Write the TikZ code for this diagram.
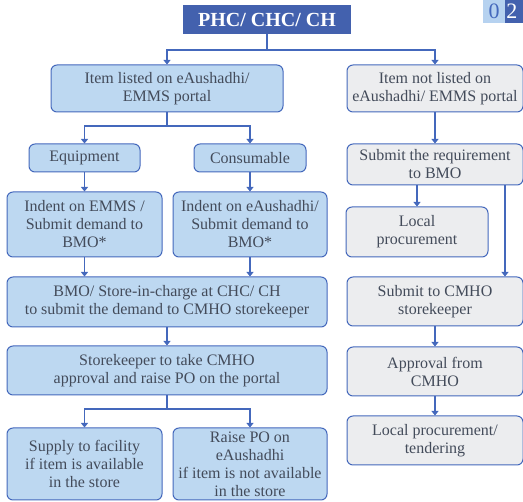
\documentclass[tikz,border=0pt]{standalone}
\usepackage{fontspec}
\setmainfont{Liberation Serif}
\usetikzlibrary{arrows.meta}

\definecolor{boxline}{HTML}{4468BC}
\definecolor{bluefill}{HTML}{BDD8F1}
\definecolor{greyfill}{HTML}{ECEDEF}
\definecolor{headfill}{HTML}{4361AE}
\definecolor{tagfill}{HTML}{B6D2F0}
\definecolor{boxtext}{HTML}{434B5A}

\tikzset{
  stepnode/.style={rectangle, rounded corners=6pt, draw=boxline, line width=1pt,
                   align=center, inner sep=0pt, text=boxtext,
                   font=\fontsize{16}{18}\selectfont},
  listed/.style={stepnode, fill=bluefill},
  unlisted/.style={stepnode, fill=greyfill},
  flow/.style={draw=boxline, line width=1.1pt, -{Triangle[width=7pt,length=4.5pt]}},
  link/.style={draw=boxline, line width=1.1pt},
}

\begin{document}
\begin{tikzpicture}[x=1pt, y=-1pt]
\useasboundingbox (0,0) rectangle (523,502);

% heading and page tag
\node [fill=headfill, text=white, minimum width=168pt, minimum height=29pt, inner sep=0pt,
       font=\bfseries\fontsize{20}{22}\selectfont] (head) at (267,19.5) {PHC/ CHC/ CH};
\node [fill=tagfill, text=boxline, minimum width=22pt, minimum height=23pt, inner sep=0pt,
       font=\fontsize{22}{24}\selectfont] (tagzero) at (494,11.5) {0};
\node [fill=headfill, text=white, minimum width=18pt, minimum height=23pt, inner sep=0pt,
       anchor=west, font=\fontsize{22}{24}\selectfont] (tagtwo) at (tagzero.east) {2\hspace*{5pt}};

% left branch
\node [listed, minimum width=232pt, minimum height=47pt] (onportal) at (167,88.5)
      {Item listed on eAushadhi/\\EMMS portal};
\node [listed, minimum width=111pt, minimum height=28pt] (equip) at (84.5,158) {Equipment};
\node [listed, minimum width=112pt, minimum height=28pt] (consum) at (250,158) {Consumable};
\node [listed, minimum width=155pt, minimum height=65pt] (indentemms) at (84.5,224.5)
      {Indent on EMMS /\\Submit demand to\\BMO*};
\node [listed, minimum width=154pt, minimum height=65pt] (indentea) at (250,224.5)
      {Indent on eAushadhi/\\Submit demand to\\BMO*};
\node [listed, minimum width=320pt, minimum height=50pt] (bmostore) at (167,302)
      {BMO/ Store-in-charge at CHC/ CH\\to submit the demand to CMHO storekeeper};
\node [listed, minimum width=320pt, minimum height=49pt] (keeper) at (167,370.5)
      {Storekeeper to take CMHO\\approval and raise PO on the portal};
\node [listed, minimum width=155pt, minimum height=72pt] (supply) at (84.5,464)
      {Supply to facility\\if item is available\\in the store};
\node [listed, minimum width=154pt, minimum height=72pt] (raisepo) at (250,464)
      {Raise PO on\\eAushadhi\\if item is not available\\in the store};

% right branch
\node [unlisted, minimum width=176pt, minimum height=47pt] (offportal) at (435,88.5)
      {Item not listed on\\eAushadhi/ EMMS portal};
\node [unlisted, minimum width=176pt, minimum height=41pt] (reqbmo) at (435,164.5)
      {Submit the requirement\\to BMO};
\node [unlisted, minimum width=142pt, minimum height=50pt] (localproc) at (417,232)
      {Local\\procurement};
\node [unlisted, minimum width=176pt, minimum height=49pt] (cmhosub) at (435,301.5)
      {Submit to CMHO\\storekeeper};
\node [unlisted, minimum width=176pt, minimum height=49pt] (approval) at (435,371.5)
      {Approval from\\CMHO};
\node [unlisted, minimum width=176pt, minimum height=49pt] (tender) at (435,440.5)
      {Local procurement/\\tendering};

% connectors
\coordinate (headsplit) at (267,50);
\coordinate (portalsplit) at (167,126);
\coordinate (keepersplit) at (167,409);
\coordinate (bypass) at (505,0);

\draw [link] (head.south) -- (headsplit);
\draw [flow] (headsplit) -| (onportal.north);
\draw [flow] (headsplit) -| (offportal.north);
\draw [link] (onportal.south) -- (portalsplit);
\draw [flow] (portalsplit) -| (equip.north);
\draw [flow] (portalsplit) -| (consum.north);
\draw [flow] (equip) -- (indentemms);
\draw [flow] (consum) -- (indentea);
\draw [flow] (indentemms.south) -- (indentemms.south |- bmostore.north);
\draw [flow] (indentea.south) -- (indentea.south |- bmostore.north);
\draw [flow] (bmostore) -- (keeper);
\draw [link] (keeper.south) -- (keepersplit);
\draw [flow] (keepersplit) -| (supply.north);
\draw [flow] (keepersplit) -| (raisepo.north);

\draw [flow] (offportal) -- (reqbmo);
\draw [flow] (reqbmo.south -| localproc.north) -- (localproc.north);
\draw [flow] (reqbmo.south -| bypass) -- (cmhosub.north -| bypass);
\draw [flow] (cmhosub) -- (approval);
\draw [flow] (approval) -- (tender);
\end{tikzpicture}
\end{document}
